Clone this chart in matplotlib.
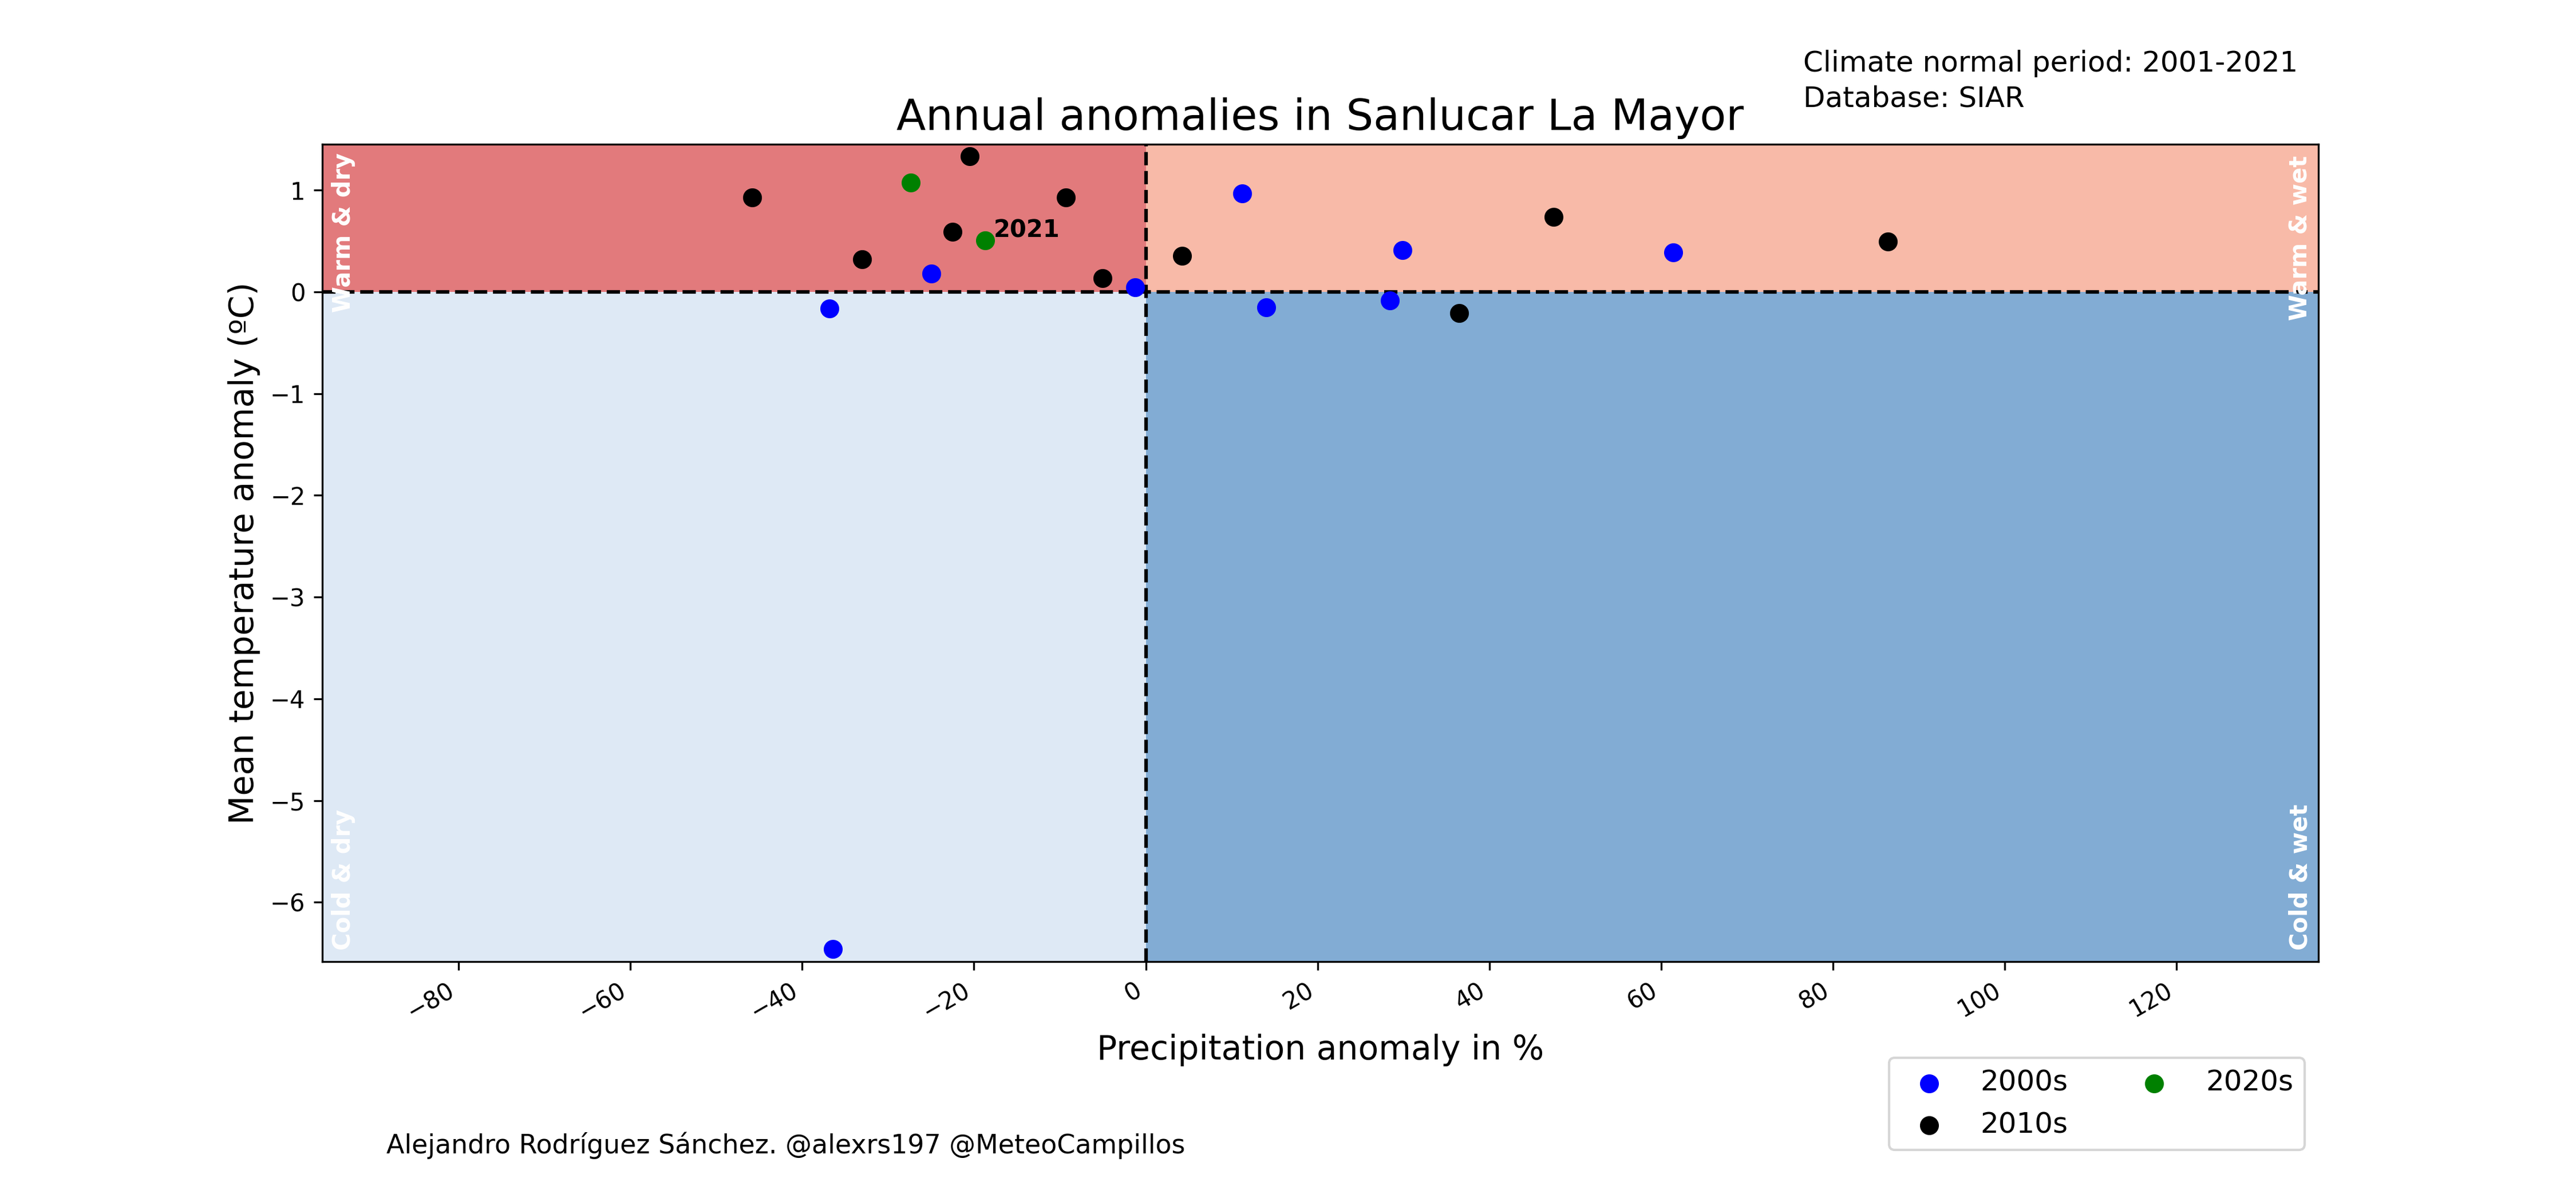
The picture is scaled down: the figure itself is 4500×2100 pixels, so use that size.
import matplotlib
matplotlib.use('Agg')
import matplotlib.pyplot as plt

# values
pr_2000s = [-24.97, -36.8, -1.22, 11.2, 29.9, 61.4, 14.0, 28.4, -36.4]
t_2000s = [0.178, -0.165, 0.043, 0.966, 0.409, 0.386, -0.154, -0.086, -6.46]
pr_2010s = [-45.85, -20.48, -9.32, -22.5, -33.06, -5.03, 4.2, 47.5, 86.4, 36.5]
t_2010s = [0.927, 1.332, 0.931, 0.589, 0.319, 0.133, 0.353, 0.735, 0.493, -0.21]
pr_2020s = [-27.35, -18.7]
t_2020s = [1.073, 0.505]

xmin, xmax = -95.9, 136.5
ymin, ymax = -6.584, 1.452

fig, ax = plt.subplots(figsize=(15, 7))
fig.subplots_adjust(left=0.125, right=0.9, top=0.88, bottom=0.2)

# quadrants
ax.axvspan(xmin, 0, ymin=(0 - ymin) / (ymax - ymin), ymax=1, color='#e27a7c', lw=0, zorder=0)
ax.axvspan(0, xmax, ymin=(0 - ymin) / (ymax - ymin), ymax=1, color='#f8baa8', lw=0, zorder=0)
ax.axvspan(xmin, 0, ymin=0, ymax=(0 - ymin) / (ymax - ymin), color='#dee9f5', lw=0, zorder=0)
ax.axvspan(0, xmax, ymin=0, ymax=(0 - ymin) / (ymax - ymin), color='#82acd4', lw=0, zorder=0)

ax.axhline(0, color='k', ls='--', lw=1.5, zorder=1)
ax.axvline(0, color='k', ls='--', lw=1.5, zorder=1)

ax.scatter(pr_2000s, t_2000s, s=48, color='blue', label='2000s', zorder=3)
ax.scatter(pr_2010s, t_2010s, s=48, color='black', label='2010s', zorder=3)
ax.scatter(pr_2020s, t_2020s, s=48, color='green', label='2020s', zorder=3)

ax.annotate('2021', (pr_2020s[-1], t_2020s[-1]), xytext=(3.5, 1.5), textcoords='offset points',
            fontsize=10, fontweight='bold', ha='left', va='baseline')

txt = dict(color='white', fontsize=10, fontweight='bold', rotation=90, ha='center', va='bottom')
ax.text(-93.4, -0.2, 'Warm & dry', **txt)
ax.text(-93.4, -6.47, 'Cold & dry', **txt)
ax.text(134.4, -0.28, 'Warm & wet', **txt)
ax.text(134.4, -6.47, 'Cold & wet', **txt)

ax.set_xlim(xmin, xmax)
ax.set_ylim(ymin, ymax)
ax.set_title('Annual anomalies in Sanlucar La Mayor', fontsize=18)
ax.set_xlabel('Precipitation anomaly in %', fontsize=14)
ax.set_ylabel('Mean temperature anomaly (ºC)', fontsize=14)
ax.set_xticks(range(-80, 121, 20))
plt.setp(ax.get_xticklabels(), rotation=30, ha='right')

fig.text(0.7, 0.947, 'Climate normal period: 2001-2021', fontsize=12, va='center')
fig.text(0.7, 0.918, 'Database: SIAR', fontsize=12, va='center')
fig.text(0.15, 0.047, 'Alejandro Rodríguez Sánchez. @alexrs197 @MeteoCampillos', fontsize=11, va='center')

ax.legend(ncol=2, fontsize=12, loc='lower right', bbox_to_anchor=(4026 / 4500, 91 / 2100),
          bbox_transform=fig.transFigure, borderaxespad=0)

fig.savefig('out.png', dpi=300)
